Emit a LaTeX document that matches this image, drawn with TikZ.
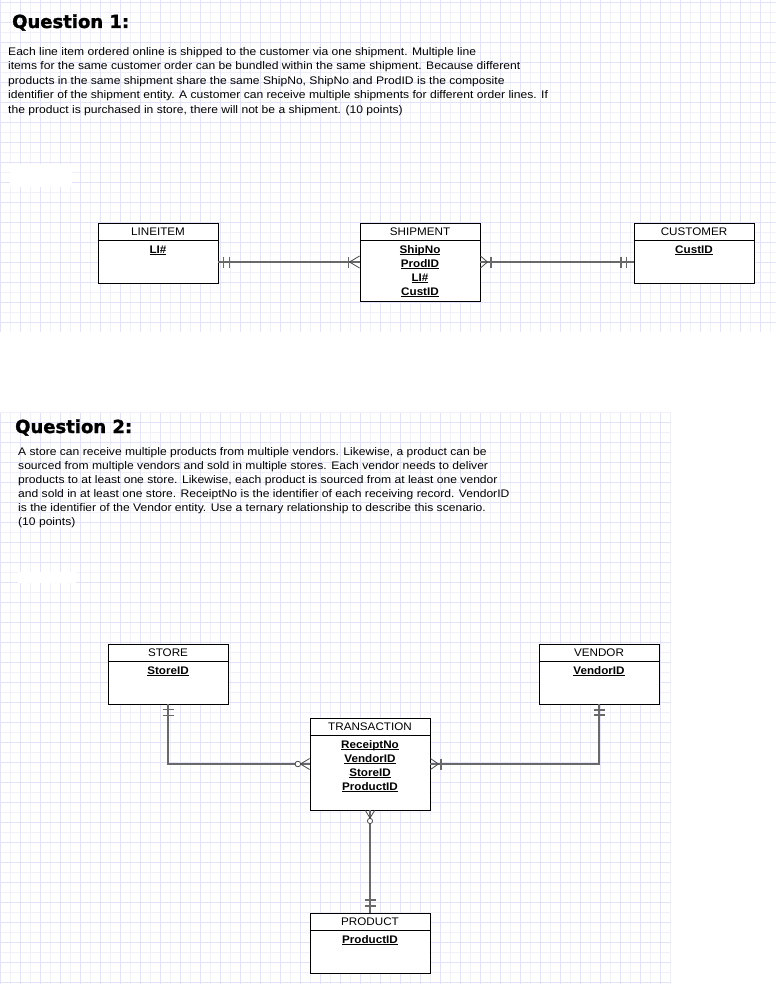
\documentclass[tikz,border=0pt]{standalone}
\usepackage{fontspec}
\setmainfont{Liberation Sans}
\newfontfamily\headfont[FakeBold=1.6]{DejaVu Sans Bold}
\newfontfamily\parafont[FakeStretch=1.1]{Liberation Sans}
\newfontfamily\boxfont[FakeStretch=1.06]{Liberation Sans}
\usetikzlibrary{calc}
\definecolor{gridmajor}{RGB}{226,226,250}
\definecolor{gridminor}{RGB}{240,240,250}
\definecolor{relline}{RGB}{105,105,105}
\definecolor{relmark}{RGB}{72,72,72}
\newsavebox{\keybox}
\newcommand{\keyattr}[1]{\sbox{\keybox}{#1}\rlap{\rule[-2.2pt]{\wd\keybox}{0.8pt}}\usebox{\keybox}}

\begin{document}
\begin{tikzpicture}[x=1pt,y=-1pt,
  entity/.style={draw,fill=white,line width=0.9pt,inner sep=0pt,minimum width=120pt,minimum height=60pt},
  etitle/.style={anchor=base,inner sep=0pt,font=\boxfont\fontsize{11}{13}\selectfont},
  attr/.style={anchor=base,inner sep=0pt,font=\boxfont\fontsize{11}{13}\selectfont\bfseries},
  para/.style={anchor=base west,inner sep=0pt,align=left,font=\parafont\fontsize{11}{14.5}\selectfont},
  qhead/.style={anchor=base west,inner sep=0pt,font=\headfont\fontsize{18}{20}\selectfont},
  rel/.style={draw=relline,line width=2pt},
  relbar/.style={draw=relline,line width=1.7pt},
  relcrow/.style={draw=relmark,line width=0.8pt},
  relring/.style={draw=relmark,fill=white,line width=0.8pt}]
  \useasboundingbox (0,0) rectangle (776,984);
  \fill[white] (0,0) rectangle (776,984);

  % grid paper, top part
  \foreach \x in {10,30,...,770} \draw[gridminor] (\x,0) -- (\x,332);
  \foreach \y in {12.5,32.5,...,332} \draw[gridminor] (0,\y) -- (776,\y);
  \foreach \x in {0,20,...,776} \draw[gridmajor] (\x,0) -- (\x,332);
  \foreach \y in {2.5,22.5,...,332} \draw[gridmajor] (0,\y) -- (776,\y);
  % grid paper, bottom part
  \foreach \x in {10,30,...,670} \draw[gridminor] (\x,413) -- (\x,984);
  \foreach \y in {412.5,432.5,...,984} \draw[gridminor] (0,\y) -- (671,\y);
  \foreach \x in {0,20,...,660} \draw[gridmajor] (\x,413) -- (\x,984);
  \foreach \y in {422.5,442.5,...,984} \draw[gridmajor] (0,\y) -- (671,\y);
  \fill[white] (10,164) rectangle (72,187);
  \fill[white] (18,572) rectangle (76,583);

  % question 1 (text node sits on its last baseline)
  \node[qhead] (q1) at (12,28) {Question 1:};
  \node[para] (q1text) at (8,113.5) {Each line item ordered online is shipped to the customer via one shipment. Multiple line\\
    items for the same customer order can be bundled within the same shipment. Because different\\
    products in the same shipment share the same ShipNo, ShipNo and ProdID is the composite\\
    identifier of the shipment entity. A customer can receive multiple shipments for different order lines. If\\
    the product is purchased in store, there will not be a shipment. (10 points)};

  \node[entity] (lineitem) at (158,253) {};
  \node[entity,minimum height=78pt] (shipment) at (420,262) {};
  \node[entity] (customer) at (694,253) {};

  \node[etitle] (lineitem-t) at ($(lineitem.north)+(0,12.5)$) {LINEITEM};
  \node[attr] (lineitem-a1) at ($(lineitem.north)+(0,30.5)$) {\keyattr{LI\#}};
  \node[etitle] (shipment-t) at ($(shipment.north)+(0,12.5)$) {SHIPMENT};
  \node[attr] (shipment-a1) at ($(shipment.north)+(0,30.5)$) {\keyattr{ShipNo}};
  \node[attr] (shipment-a2) at ($(shipment.north)+(0,44.5)$) {\keyattr{ProdID}};
  \node[attr] (shipment-a3) at ($(shipment.north)+(0,58.5)$) {\keyattr{LI\#}};
  \node[attr] (shipment-a4) at ($(shipment.north)+(0,72.5)$) {\keyattr{CustID}};
  \node[etitle] (customer-t) at ($(customer.north)+(0,12.5)$) {CUSTOMER};
  \node[attr] (customer-a1) at ($(customer.north)+(0,30.5)$) {\keyattr{CustID}};

  % question 2
  \node[qhead] (q2) at (15,433) {Question 2:};
  \node[para,font=\parafont\fontsize{11}{14}\selectfont] (q2text) at (18,525.5) {A store can receive multiple products from multiple vendors. Likewise, a product can be\\
    sourced from multiple vendors and sold in multiple stores. Each vendor needs to deliver\\
    products to at least one store. Likewise, each product is sourced from at least one vendor\\
    and sold in at least one store. ReceiptNo is the identifier of each receiving record. VendorID\\
    is the identifier of the Vendor entity. Use a ternary relationship to describe this scenario.\\
    (10 points)};

  \node[entity] (store) at (168,674) {};
  \node[entity] (vendor) at (599,674) {};
  \node[entity,minimum height=92pt] (trans) at (370,764) {};
  \node[entity] (product) at (370,943) {};

  \node[etitle] (store-t) at ($(store.north)+(0,12.5)$) {STORE};
  \node[attr] (store-a1) at ($(store.north)+(0,30.5)$) {\keyattr{StoreID}};
  \node[etitle] (vendor-t) at ($(vendor.north)+(0,12.5)$) {VENDOR};
  \node[attr] (vendor-a1) at ($(vendor.north)+(0,30.5)$) {\keyattr{VendorID}};
  \node[etitle] (trans-t) at ($(trans.north)+(0,12.5)$) {TRANSACTION};
  \node[attr] (trans-a1) at ($(trans.north)+(0,30.5)$) {\keyattr{ReceiptNo}};
  \node[attr] (trans-a2) at ($(trans.north)+(0,44.5)$) {\keyattr{VendorID}};
  \node[attr] (trans-a3) at ($(trans.north)+(0,58.5)$) {\keyattr{StoreID}};
  \node[attr] (trans-a4) at ($(trans.north)+(0,72.5)$) {\keyattr{ProductID}};
  \node[etitle] (product-t) at ($(product.north)+(0,12.5)$) {PRODUCT};
  \node[attr] (product-a1) at ($(product.north)+(0,30.5)$) {\keyattr{ProductID}};

  \foreach \e in {lineitem,shipment,customer,store,vendor,trans,product}
    \draw[line width=0.9pt] ($(\e.north west)+(0,18)$) -- ($(\e.north east)+(0,18)$);

  % relationships
  \coordinate (lbend) at (lineitem.east |- shipment.west);
  \coordinate (cbend) at (customer.west |- shipment.east);
  \coordinate (sbend) at (store.south |- trans.west);
  \coordinate (vbend) at (vendor.south |- trans.east);
  \draw[rel] (lbend) -- (shipment.west);
  \draw[rel] (shipment.east) -- (cbend);
  \draw[rel] (store.south) -- (sbend) -- (trans.west);
  \draw[rel] (vendor.south) -- (vbend) -- (trans.east);
  \draw[rel] (trans.south) -- (product.north);

  % lineitem || ---- |< shipment
  \draw[relbar] ($(lbend)+(5,-5.5)$) -- ++(0,11);
  \draw[relbar] ($(lbend)+(11,-5.5)$) -- ++(0,11);
  \draw[relbar] ($(shipment.west)+(-11,-5.5)$) -- ++(0,11);
  \draw[relcrow] ($(shipment.west)+(0,-6)$) -- ($(shipment.west)+(-10,0)$) -- ($(shipment.west)+(0,6)$);
  % shipment >| ---- || customer
  \draw[relcrow] ($(shipment.east)+(0,-6)$) -- ($(shipment.east)+(7,0)$) -- ($(shipment.east)+(0,6)$);
  \draw[relbar] ($(shipment.east)+(10.5,-5.5)$) -- ++(0,11);
  \draw[relbar] ($(cbend)+(-7,-5.5)$) -- ++(0,11);
  \draw[relbar] ($(cbend)+(-12.5,-5.5)$) -- ++(0,11);

  % store || ---- o< transaction
  \draw[relbar] ($(store.south)+(-5.5,5)$) -- ++(11,0);
  \draw[relbar] ($(store.south)+(-5.5,11)$) -- ++(11,0);
  \draw[relcrow] ($(trans.west)+(0,-5.5)$) -- ($(trans.west)+(-9,0)$) -- ($(trans.west)+(0,5.5)$);
  \draw[relring] ($(trans.west)+(-11.7,0)$) circle (2.8);
  % vendor || ---- >| transaction
  \draw[relbar] ($(vendor.south)+(-5.5,5.5)$) -- ++(11,0);
  \draw[relbar] ($(vendor.south)+(-5.5,10.5)$) -- ++(11,0);
  \draw[relcrow] ($(trans.east)+(0,-5.5)$) -- ($(trans.east)+(8,0)$) -- ($(trans.east)+(0,5.5)$);
  \draw[relbar] ($(trans.east)+(10.5,-5.5)$) -- ++(0,11);
  % transaction o< ---- || product
  \draw[relcrow] ($(trans.south)+(-4.7,0)$) -- ($(trans.south)+(0,7.5)$) -- ($(trans.south)+(4.7,0)$);
  \draw[relring] ($(trans.south)+(0,10.5)$) circle (2.6);
  \draw[relbar] ($(product.north)+(-5.5,-6.5)$) -- ++(11,0);
  \draw[relbar] ($(product.north)+(-5.5,-12.5)$) -- ++(11,0);
\end{tikzpicture}
\end{document}
